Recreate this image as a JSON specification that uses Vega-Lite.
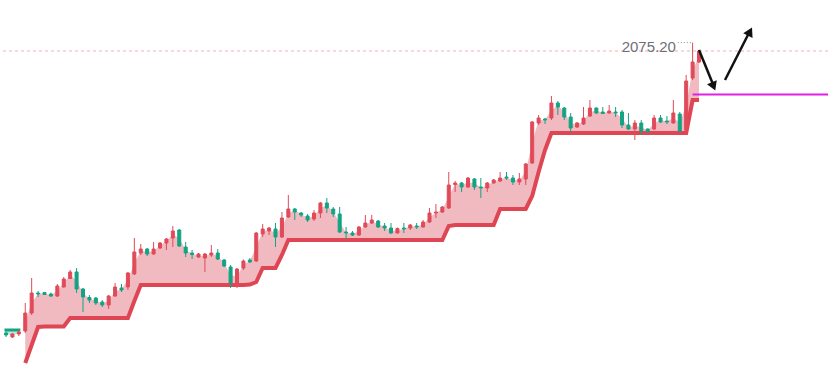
{
"$schema":"https://vega.github.io/schema/vega-lite/v6.json",
"width":828,"height":377,
"autosize":{"type":"none"},
"padding":0,
"background":"white",
"config":{"view":{"stroke":null}},
"datasets":{
"k":[
{"i":0,"o":1930.0,"h":1931.0,"l":1928.0,"c":1929.0,"m":1929.5,"dn":1931.5},
{"i":1,"o":1928.0,"h":1930.0,"l":1927.5,"c":1929.5,"m":1928.75,"dn":1931.5},
{"i":2,"o":1929.5,"h":1931.5,"l":1928.5,"c":1930.5,"m":1930.0,"dn":1931.5},
{"i":3,"o":1931.0,"h":1945.0,"l":1930.0,"c":1940.0,"m":1935.5,"st":1915.0},
{"i":4,"o":1940.0,"h":1957.5,"l":1939.0,"c":1950.0,"m":1945.0,"st":1924.0},
{"i":5,"o":1950.0,"h":1951.0,"l":1948.0,"c":1949.5,"m":1949.75,"st":1933.0},
{"i":6,"o":1950.25,"h":1950.5,"l":1949.0,"c":1949.25,"m":1949.75,"st":1933.25},
{"i":7,"o":1949.5,"h":1950.25,"l":1948.0,"c":1948.5,"m":1949.0,"st":1933.25},
{"i":8,"o":1948.5,"h":1954.5,"l":1948.0,"c":1953.5,"m":1951.0,"st":1933.25},
{"i":9,"o":1953.0,"h":1958.0,"l":1952.75,"c":1957.0,"m":1955.0,"st":1933.25},
{"i":10,"o":1957.25,"h":1961.5,"l":1957.0,"c":1960.5,"m":1958.9,"st":1937.5},
{"i":11,"o":1960.5,"h":1962.5,"l":1950.0,"c":1952.0,"m":1956.25,"st":1937.5},
{"i":12,"o":1952.0,"h":1952.5,"l":1940.5,"c":1948.0,"m":1950.0,"st":1937.5},
{"i":13,"o":1947.75,"h":1949.0,"l":1945.0,"c":1946.5,"m":1947.1,"st":1937.5},
{"i":14,"o":1947.5,"h":1948.0,"l":1944.0,"c":1945.0,"m":1946.25,"st":1937.5},
{"i":15,"o":1945.5,"h":1946.5,"l":1943.0,"c":1944.0,"m":1944.75,"st":1937.5},
{"i":16,"o":1944.0,"h":1949.0,"l":1942.0,"c":1948.5,"m":1946.25,"st":1937.5},
{"i":17,"o":1948.5,"h":1955.0,"l":1948.0,"c":1953.0,"m":1950.75,"st":1937.5},
{"i":18,"o":1952.5,"h":1954.5,"l":1950.5,"c":1951.5,"m":1952.0,"st":1937.5},
{"i":19,"o":1953.0,"h":1960.5,"l":1951.5,"c":1960.0,"m":1956.5,"st":1937.5},
{"i":20,"o":1959.5,"h":1977.5,"l":1959.0,"c":1970.5,"m":1965.0,"st":1946.0},
{"i":21,"o":1970.0,"h":1974.5,"l":1969.0,"c":1972.0,"m":1971.0,"st":1954.0},
{"i":22,"o":1972.0,"h":1972.5,"l":1968.5,"c":1969.5,"m":1970.75,"st":1954.0},
{"i":23,"o":1969.5,"h":1975.5,"l":1969.25,"c":1972.0,"m":1970.75,"st":1954.0},
{"i":24,"o":1972.5,"h":1975.5,"l":1972.0,"c":1975.0,"m":1973.75,"st":1954.0},
{"i":25,"o":1975.0,"h":1977.5,"l":1971.5,"c":1977.0,"m":1976.0,"st":1954.0},
{"i":26,"o":1977.5,"h":1983.5,"l":1973.0,"c":1981.0,"m":1979.25,"st":1954.0},
{"i":27,"o":1981.5,"h":1982.0,"l":1973.0,"c":1973.5,"m":1977.5,"st":1954.0},
{"i":28,"o":1973.0,"h":1975.5,"l":1968.0,"c":1970.0,"m":1971.5,"st":1954.0},
{"i":29,"o":1970.0,"h":1971.5,"l":1967.0,"c":1969.25,"m":1969.6,"st":1954.0},
{"i":30,"o":1968.0,"h":1970.0,"l":1967.5,"c":1969.5,"m":1968.75,"st":1954.0},
{"i":31,"o":1967.5,"h":1970.0,"l":1960.5,"c":1969.5,"m":1968.5,"st":1954.0},
{"i":32,"o":1969.0,"h":1974.0,"l":1968.0,"c":1970.0,"m":1969.5,"st":1954.0},
{"i":33,"o":1970.0,"h":1972.0,"l":1966.5,"c":1967.0,"m":1968.5,"st":1954.0},
{"i":34,"o":1966.5,"h":1967.0,"l":1963.0,"c":1963.5,"m":1965.0,"st":1954.0},
{"i":35,"o":1963.0,"h":1964.0,"l":1952.5,"c":1955.0,"m":1959.0,"st":1954.0},
{"i":36,"o":1954.5,"h":1962.5,"l":1952.5,"c":1962.0,"m":1958.25,"st":1954.0},
{"i":37,"o":1962.5,"h":1966.75,"l":1961.5,"c":1966.0,"m":1964.25,"st":1954.0},
{"i":38,"o":1966.5,"h":1967.5,"l":1965.0,"c":1965.5,"m":1966.0,"st":1954.25},
{"i":39,"o":1966.0,"h":1980.5,"l":1965.5,"c":1980.0,"m":1973.0,"st":1955.5},
{"i":40,"o":1979.5,"h":1984.5,"l":1978.0,"c":1982.0,"m":1980.75,"st":1962.5},
{"i":41,"o":1981.0,"h":1983.0,"l":1979.0,"c":1982.5,"m":1981.75,"st":1962.5},
{"i":42,"o":1982.0,"h":1985.0,"l":1973.0,"c":1978.0,"m":1980.0,"st":1962.5},
{"i":43,"o":1978.0,"h":1990.5,"l":1977.5,"c":1987.5,"m":1982.75,"st":1969.0},
{"i":44,"o":1988.0,"h":1999.0,"l":1987.5,"c":1992.0,"m":1990.0,"st":1976.5},
{"i":45,"o":1992.0,"h":1992.5,"l":1986.5,"c":1990.5,"m":1991.25,"st":1976.5},
{"i":46,"o":1990.0,"h":1990.5,"l":1988.0,"c":1989.0,"m":1989.5,"st":1976.5},
{"i":47,"o":1988.5,"h":1989.5,"l":1985.5,"c":1986.5,"m":1987.5,"st":1976.5},
{"i":48,"o":1987.0,"h":1991.5,"l":1986.0,"c":1990.0,"m":1988.5,"st":1976.5},
{"i":49,"o":1990.0,"h":1995.5,"l":1987.5,"c":1995.0,"m":1992.5,"st":1976.5},
{"i":50,"o":1995.0,"h":1997.5,"l":1990.0,"c":1992.5,"m":1993.75,"st":1976.5},
{"i":51,"o":1992.0,"h":1993.0,"l":1988.0,"c":1989.5,"m":1990.75,"st":1976.5},
{"i":52,"o":1989.5,"h":1993.0,"l":1980.0,"c":1980.5,"m":1985.0,"st":1976.5},
{"i":53,"o":1980.5,"h":1983.0,"l":1977.0,"c":1980.0,"m":1980.25,"st":1976.5},
{"i":54,"o":1980.0,"h":1981.0,"l":1978.5,"c":1979.0,"m":1979.5,"st":1976.5},
{"i":55,"o":1979.0,"h":1983.5,"l":1978.5,"c":1983.0,"m":1981.0,"st":1976.5},
{"i":56,"o":1983.0,"h":1989.0,"l":1982.75,"c":1985.0,"m":1984.0,"st":1976.5},
{"i":57,"o":1985.0,"h":1989.0,"l":1984.5,"c":1986.5,"m":1985.75,"st":1976.5},
{"i":58,"o":1986.0,"h":1986.5,"l":1982.5,"c":1983.0,"m":1984.5,"st":1976.5},
{"i":59,"o":1983.5,"h":1985.0,"l":1981.0,"c":1982.5,"m":1983.0,"st":1976.5},
{"i":60,"o":1982.5,"h":1985.0,"l":1979.5,"c":1980.0,"m":1981.25,"st":1976.5},
{"i":61,"o":1980.0,"h":1982.75,"l":1979.75,"c":1982.25,"m":1981.1,"st":1976.5},
{"i":62,"o":1982.5,"h":1985.0,"l":1980.0,"c":1982.0,"m":1982.25,"st":1976.5},
{"i":63,"o":1982.5,"h":1984.5,"l":1981.5,"c":1984.0,"m":1983.25,"st":1976.5},
{"i":64,"o":1983.5,"h":1985.0,"l":1982.0,"c":1983.0,"m":1983.25,"st":1976.5},
{"i":65,"o":1983.0,"h":1986.5,"l":1982.75,"c":1985.5,"m":1984.25,"st":1976.5},
{"i":66,"o":1985.5,"h":1992.5,"l":1985.0,"c":1990.0,"m":1987.75,"st":1976.5},
{"i":67,"o":1990.0,"h":1994.5,"l":1987.5,"c":1990.5,"m":1990.25,"st":1976.5},
{"i":68,"o":1990.5,"h":1993.5,"l":1990.0,"c":1993.0,"m":1991.75,"st":1976.5},
{"i":69,"o":1992.5,"h":2010.5,"l":1992.0,"c":2004.0,"m":1998.25,"st":1983.5},
{"i":70,"o":2004.25,"h":2006.0,"l":2000.5,"c":2005.0,"m":2004.6,"st":1984.0},
{"i":71,"o":2005.0,"h":2005.5,"l":2000.5,"c":2003.0,"m":2004.0,"st":1984.0},
{"i":72,"o":2003.0,"h":2008.0,"l":2002.5,"c":2007.5,"m":2005.25,"st":1984.0},
{"i":73,"o":2007.0,"h":2007.5,"l":2001.5,"c":2003.0,"m":2005.0,"st":1984.0},
{"i":74,"o":2003.0,"h":2007.5,"l":1997.5,"c":2002.5,"m":2002.75,"st":1984.0},
{"i":75,"o":2002.5,"h":2005.5,"l":2000.5,"c":2005.0,"m":2003.75,"st":1984.0},
{"i":76,"o":2005.0,"h":2007.0,"l":2004.75,"c":2006.5,"m":2005.75,"st":1984.0},
{"i":77,"o":2006.0,"h":2010.5,"l":2005.5,"c":2007.5,"m":2006.75,"st":1992.0},
{"i":78,"o":2008.0,"h":2010.5,"l":2006.5,"c":2007.5,"m":2007.75,"st":1992.0},
{"i":79,"o":2007.5,"h":2009.0,"l":2004.0,"c":2005.5,"m":2006.5,"st":1992.0},
{"i":80,"o":2005.5,"h":2010.0,"l":2004.0,"c":2007.0,"m":2006.25,"st":1992.0},
{"i":81,"o":2007.0,"h":2015.0,"l":2004.0,"c":2014.5,"m":2010.75,"st":1992.0},
{"i":82,"o":2015.0,"h":2036.0,"l":2014.5,"c":2035.5,"m":2025.25,"st":1998.5},
{"i":83,"o":2035.0,"h":2039.0,"l":2034.0,"c":2037.5,"m":2036.25,"st":2010.5},
{"i":84,"o":2037.0,"h":2037.5,"l":2034.5,"c":2036.5,"m":2036.75,"st":2021.5},
{"i":85,"o":2037.5,"h":2048.5,"l":2036.5,"c":2045.0,"m":2041.25,"st":2030.0},
{"i":86,"o":2045.0,"h":2046.0,"l":2039.0,"c":2043.0,"m":2044.0,"st":2030.0},
{"i":87,"o":2042.5,"h":2043.0,"l":2036.5,"c":2038.0,"m":2040.25,"st":2030.0},
{"i":88,"o":2038.0,"h":2040.0,"l":2030.5,"c":2032.5,"m":2035.25,"st":2030.0},
{"i":89,"o":2033.0,"h":2035.5,"l":2032.5,"c":2035.0,"m":2034.0,"st":2030.0},
{"i":90,"o":2034.5,"h":2043.0,"l":2034.0,"c":2037.5,"m":2036.0,"st":2030.0},
{"i":91,"o":2038.5,"h":2046.5,"l":2038.0,"c":2042.5,"m":2040.5,"st":2030.0},
{"i":92,"o":2042.5,"h":2042.75,"l":2039.5,"c":2040.0,"m":2041.25,"st":2030.0},
{"i":93,"o":2040.5,"h":2043.0,"l":2039.5,"c":2039.75,"m":2040.1,"st":2030.0},
{"i":94,"o":2040.0,"h":2044.0,"l":2039.75,"c":2041.0,"m":2040.5,"st":2030.0},
{"i":95,"o":2040.5,"h":2043.0,"l":2038.0,"c":2040.0,"m":2040.25,"st":2030.0},
{"i":96,"o":2040.5,"h":2041.5,"l":2032.5,"c":2034.0,"m":2037.25,"st":2030.0},
{"i":97,"o":2034.0,"h":2040.0,"l":2031.5,"c":2032.0,"m":2033.0,"st":2030.0},
{"i":98,"o":2032.0,"h":2036.5,"l":2026.5,"c":2035.0,"m":2033.5,"st":2030.0},
{"i":99,"o":2035.0,"h":2036.5,"l":2029.0,"c":2031.0,"m":2033.0,"st":2030.0},
{"i":100,"o":2032.0,"h":2032.25,"l":2030.25,"c":2030.5,"m":2031.25,"st":2030.0},
{"i":101,"o":2032.0,"h":2039.0,"l":2031.5,"c":2037.5,"m":2034.75,"st":2030.0},
{"i":102,"o":2037.5,"h":2039.0,"l":2035.0,"c":2035.5,"m":2036.5,"st":2030.0},
{"i":103,"o":2036.0,"h":2038.5,"l":2034.5,"c":2035.5,"m":2035.75,"st":2030.0},
{"i":104,"o":2035.0,"h":2046.5,"l":2034.75,"c":2040.0,"m":2037.5,"st":2030.0},
{"i":105,"o":2039.5,"h":2040.5,"l":2030.5,"c":2031.0,"m":2035.25,"st":2030.0},
{"i":106,"o":2031.5,"h":2059.0,"l":2031.0,"c":2056.0,"m":2043.75,"st":2030.0},
{"i":107,"o":2057.5,"h":2075.2,"l":2056.5,"c":2065.5,"m":2061.5,"st":2046.5},
{"i":108,"o":2065.5,"h":2071.5,"l":2065.0,"c":2071.0,"m":2068.25,"st":2046.5}
],
"arrows":[
{"g":1,"i":108.0,"p":2071.5},{"g":1,"i":110.1,"p":2055.0},
{"g":2,"i":112.05,"p":2056.5},{"g":2,"i":115.7,"p":2079.5}
]
},
"layer":[
{"data":{"values":[{"p":2071.0}]},
 "mark":{"type":"rule","color":"#F2AEB8","strokeWidth":1,"strokeDash":[3,3]},
 "encoding":{"y":{"field":"p","type":"quantitative","scale":{"domain":[1908,2096.5],"nice":false,"zero":false,"padding":0},"axis":null}}},
{"data":{"name":"k"},"transform":[{"filter":"isValid(datum.st)"}],
 "mark":{"type":"area","color":"#F1BAC0"},
 "encoding":{
  "x":{"field":"i","type":"quantitative","scale":{"domain":[-0.935,128.1],"nice":false,"zero":false,"padding":0},"axis":null},
  "y":{"field":"m","type":"quantitative","scale":{"domain":[1908,2096.5],"nice":false,"zero":false,"padding":0},"axis":null},
  "y2":{"field":"st"}}},
{"data":{"name":"k"},"transform":[{"filter":"isValid(datum.dn)"}],
 "mark":{"type":"area","color":"#BDE5D9"},
 "encoding":{
  "x":{"field":"i","type":"quantitative","scale":{"domain":[-0.935,128.1],"nice":false,"zero":false,"padding":0},"axis":null},
  "y":{"field":"m","type":"quantitative","scale":{"domain":[1908,2096.5],"nice":false,"zero":false,"padding":0},"axis":null},
  "y2":{"field":"dn"}}},
{"data":{"name":"k"},"transform":[{"filter":"isValid(datum.st)"}],
 "mark":{"type":"line","color":"#DF4654","strokeWidth":4,"strokeJoin":"miter"},
 "encoding":{
  "x":{"field":"i","type":"quantitative","scale":{"domain":[-0.935,128.1],"nice":false,"zero":false,"padding":0},"axis":null},
  "y":{"field":"st","type":"quantitative","scale":{"domain":[1908,2096.5],"nice":false,"zero":false,"padding":0},"axis":null}}},
{"data":{"name":"k"},"transform":[{"filter":"isValid(datum.dn)"}],
 "mark":{"type":"line","color":"#13A383","strokeWidth":3,"strokeCap":"square"},
 "encoding":{
  "x":{"field":"i","type":"quantitative","scale":{"domain":[-0.935,128.1],"nice":false,"zero":false,"padding":0},"axis":null},
  "y":{"field":"dn","type":"quantitative","scale":{"domain":[1908,2096.5],"nice":false,"zero":false,"padding":0},"axis":null}}},
{"data":{"name":"k"},
 "mark":{"type":"rule","strokeWidth":1},
 "encoding":{
  "x":{"field":"i","type":"quantitative","scale":{"domain":[-0.935,128.1],"nice":false,"zero":false,"padding":0},"axis":null},
  "y":{"field":"l","type":"quantitative","scale":{"domain":[1908,2096.5],"nice":false,"zero":false,"padding":0},"axis":null},
  "y2":{"field":"h"},
  "color":{"condition":{"test":"datum.c >= datum.o","value":"#E04A59"},"value":"#13A383"}}},
{"data":{"name":"k"},
 "mark":{"type":"bar","orient":"vertical","size":3,"strokeWidth":1},
 "encoding":{
  "x":{"field":"i","type":"quantitative","scale":{"domain":[-0.935,128.1],"nice":false,"zero":false,"padding":0},"axis":null},
  "y":{"field":"o","type":"quantitative","scale":{"domain":[1908,2096.5],"nice":false,"zero":false,"padding":0},"axis":null},
  "y2":{"field":"c"},
  "fill":{"condition":{"test":"datum.c >= datum.o","value":"#E04A59"},"value":"#13A383"},
  "stroke":{"condition":{"test":"datum.c >= datum.o","value":"#E04A59"},"value":"#13A383"}}},
{"data":{"values":[{"i":107,"i2":128.1,"p":2049.25}]},
 "mark":{"type":"rule","color":"#E11EE8","strokeWidth":2},
 "encoding":{
  "x":{"field":"i","type":"quantitative","scale":{"domain":[-0.935,128.1],"nice":false,"zero":false,"padding":0},"axis":null},
  "x2":{"field":"i2"},
  "y":{"field":"p","type":"quantitative","scale":{"domain":[1908,2096.5],"nice":false,"zero":false,"padding":0},"axis":null}}},
{"data":{"values":[{"i":104.7,"i2":107,"p":2075.2}]},
 "mark":{"type":"rule","color":"#8A8D96","strokeWidth":1,"strokeDash":[1,2]},
 "encoding":{
  "x":{"field":"i","type":"quantitative","scale":{"domain":[-0.935,128.1],"nice":false,"zero":false,"padding":0},"axis":null},
  "x2":{"field":"i2"},
  "y":{"field":"p","type":"quantitative","scale":{"domain":[1908,2096.5],"nice":false,"zero":false,"padding":0},"axis":null}}},
{"data":{"values":[{"i":104.4,"p":2075.2,"t":"2075.20"}]},
 "mark":{"type":"text","align":"right","baseline":"middle","dy":4,"fontSize":15,"font":"Liberation Sans","color":"#6E7079"},
 "encoding":{
  "x":{"field":"i","type":"quantitative","scale":{"domain":[-0.935,128.1],"nice":false,"zero":false,"padding":0},"axis":null},
  "y":{"field":"p","type":"quantitative","scale":{"domain":[1908,2096.5],"nice":false,"zero":false,"padding":0},"axis":null},
  "text":{"field":"t"}}},
{"data":{"name":"arrows"},
 "mark":{"type":"line","color":"#111111","strokeWidth":2.5},
 "encoding":{
  "x":{"field":"i","type":"quantitative","scale":{"domain":[-0.935,128.1],"nice":false,"zero":false,"padding":0},"axis":null},
  "y":{"field":"p","type":"quantitative","scale":{"domain":[1908,2096.5],"nice":false,"zero":false,"padding":0},"axis":null},
  "detail":{"field":"g"}}},
{"data":{"values":[{"i":110.18,"p":2054.0}]},
 "mark":{"type":"point","shape":"triangle","filled":true,"color":"#111111","size":110,"angle":158,"opacity":1},
 "encoding":{
  "x":{"field":"i","type":"quantitative","scale":{"domain":[-0.935,128.1],"nice":false,"zero":false,"padding":0},"axis":null},
  "y":{"field":"p","type":"quantitative","scale":{"domain":[1908,2096.5],"nice":false,"zero":false,"padding":0},"axis":null}}},
{"data":{"values":[{"i":115.83,"p":2080.0}]},
 "mark":{"type":"point","shape":"triangle","filled":true,"color":"#111111","size":110,"angle":27,"opacity":1},
 "encoding":{
  "x":{"field":"i","type":"quantitative","scale":{"domain":[-0.935,128.1],"nice":false,"zero":false,"padding":0},"axis":null},
  "y":{"field":"p","type":"quantitative","scale":{"domain":[1908,2096.5],"nice":false,"zero":false,"padding":0},"axis":null}}}
]
}
